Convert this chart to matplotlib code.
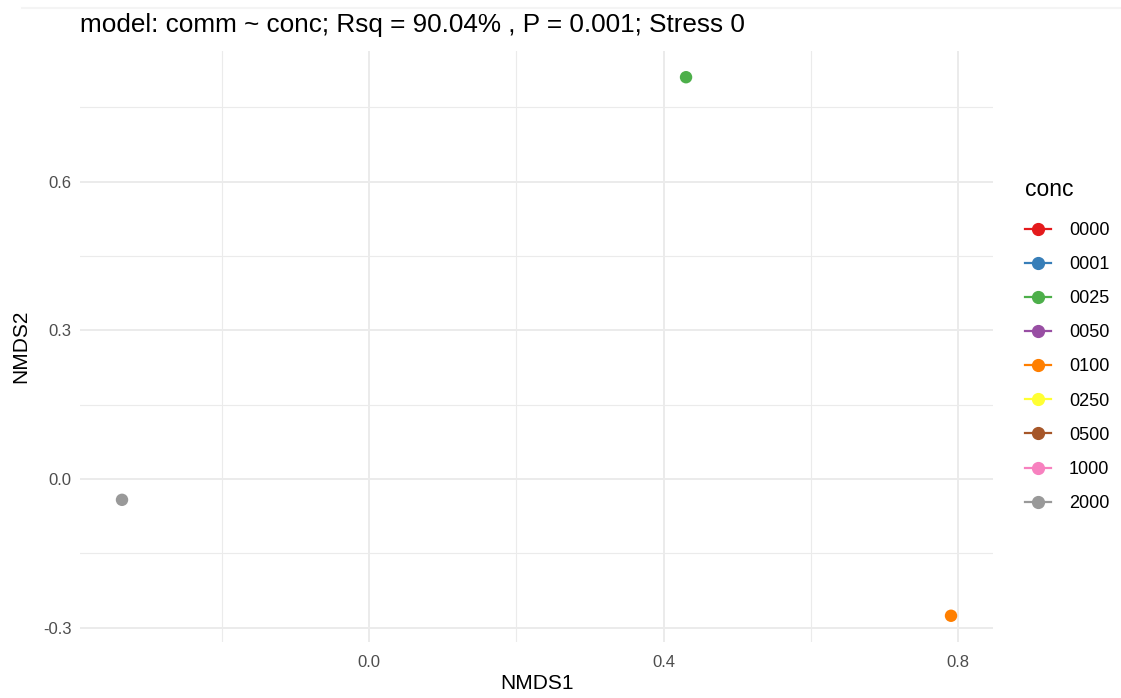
import matplotlib
matplotlib.use("Agg")
import matplotlib.pyplot as plt
from matplotlib.lines import Line2D
from matplotlib.ticker import MultipleLocator

# NMDS site scores
conc_levels = ["0000", "0001", "0025", "0050", "0100", "0250", "0500", "1000", "2000"]
level_colors = ["#E41A1C", "#377EB8", "#4DAF4A", "#984EA3", "#FF7F00",
                "#FFFF33", "#A65628", "#F781BF", "#999999"]
site_conc = ["0025", "0100", "2000"]
nmds1 = [0.4306, 0.7905, -0.3355]
nmds2 = [0.811, -0.276, -0.042]

title = "model: comm ~ conc; Rsq = 90.04% , P = 0.001; Stress 0"

plt.rcParams["font.family"] = ["Liberation Sans", "DejaVu Sans"]

fig = plt.figure(figsize=(11.21, 6.98), dpi=100)
ax = fig.add_axes([0.0714, 0.0802, 0.8144, 0.8468])

color_of = dict(zip(conc_levels, level_colors))
for x, y, c in zip(nmds1, nmds2, site_conc):
    ax.scatter(x, y, s=80, color=color_of[c], edgecolors="none", zorder=3)

ax.set_xlim(-0.3925, 0.8475)
ax.set_ylim(-0.329, 0.864)
ax.xaxis.set_minor_locator(MultipleLocator(0.2))
ax.yaxis.set_minor_locator(MultipleLocator(0.15))
ax.set_xticks([0.0, 0.4, 0.8])
ax.set_xticklabels(["0.0", "0.4", "0.8"])
ax.set_yticks([-0.3, 0.0, 0.3, 0.6])
ax.set_yticklabels(["-0.3", "0.0", "0.3", "0.6"])

ax.grid(which="major", color="#EBEBEB", linewidth=1.4)
ax.grid(which="minor", color="#EBEBEB", linewidth=0.8)
ax.set_axisbelow(True)
for s in ax.spines.values():
    s.set_visible(False)
ax.tick_params(which="both", length=0, labelsize=12, labelcolor="#4D4D4D")
ax.tick_params(axis="x", pad=9)
ax.tick_params(axis="y", pad=6)

ax.set_xlabel("NMDS1", fontsize=15, color="black", labelpad=3)
ax.set_ylabel("NMDS2", fontsize=15, color="black", labelpad=9)
ax.set_title(title, loc="left", fontsize=18.8, color="black", pad=14)

handles = [Line2D([0], [0], color=c, marker="o", markersize=8.5, linewidth=1.6)
           for c in level_colors]
leg = fig.legend(handles, conc_levels, title="conc", loc="upper left",
                 bbox_to_anchor=(0.9144, 0.745), frameon=False, fontsize=13,
                 title_fontsize=16.5, handlelength=1.45, labelspacing=0.95,
                 handletextpad=0.98, borderaxespad=0, borderpad=0)
leg._legend_box.align = "left"
leg._legend_box.sep = 15

fig.add_artist(Line2D([0.02, 1.0], [0.988, 0.988], transform=fig.transFigure,
                      color="#F4F4F4", linewidth=1.5))

fig.savefig("out.png", dpi=100, facecolor="white")
